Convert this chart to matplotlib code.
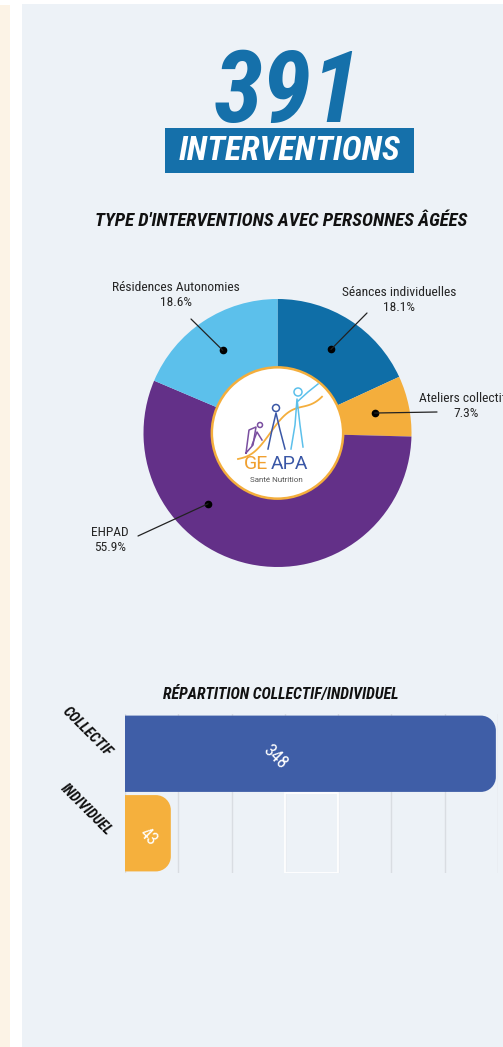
import numpy as np
import matplotlib
matplotlib.use("Agg")
import matplotlib.pyplot as plt
from matplotlib import font_manager as fm
from matplotlib.patches import Rectangle, Circle, PathPatch
from matplotlib.path import Path

# ---------------- data ----------------
total_interventions = 391
pie_labels = ["Séances individuelles", "Ateliers collectifs", "EHPAD", "Résidences Autonomies"]
pie_shares = [18.1, 7.3, 55.9, 18.6]
pie_colors = ["#0f6ea7", "#f4ae3c", "#633088", "#5cc0eb"]

bar_categories = ["COLLECTIF", "INDIVIDUEL"]
bar_values = [348, 43]
bar_colors = ["#3f5ea7", "#f5b03d"]
bar_ticks = [0, 50, 100, 150, 200, 250, 300, 350]

title_main = "INTERVENTIONS"
title_pie = "TYPE D'INTERVENTIONS AVEC PERSONNES ÂGÉES"
title_bar = "RÉPARTITION COLLECTIF/INDIVIDUEL"

# ---------------- fonts ----------------
names = {f.name for f in fm.fontManager.ttflist}
COND = next((n for n in ["Roboto Condensed", "Liberation Sans Narrow", "Roboto"] if n in names), "DejaVu Sans")
SC = 1.0 if COND != "Roboto" else 0.86
REG = "Roboto" if "Roboto" in names else "DejaVu Sans"

W, H = 503, 1047
fig = plt.figure(figsize=(W / 100, H / 100), dpi=100)
fig.patch.set_facecolor("white")


def px_rect(l, t, w, h):
    return [l / W, 1 - (t + h) / H, w / W, h / H]


bg = fig.add_axes([0, 0, 1, 1])
bg.set_xlim(0, W)
bg.set_ylim(H, 0)
bg.axis("off")
bg.add_patch(Rectangle((0, 5), 10.5, H, color="#fcf3e6", lw=0))
bg.add_patch(Rectangle((22.5, 4), W, H, color="#edf2f7", lw=0))

# headline
bg.text(287, 122, str(total_interventions), ha="center", va="baseline", fontsize=72 * SC,
        family=COND, weight="bold", style="italic", color="#1570aa")
bg.add_patch(Rectangle((165, 128), 249, 45, color="#1570aa", lw=0))
bg.text(290, 151, title_main, ha="center", va="center", fontsize=24.5 * SC,
        family=COND, weight="bold", style="italic", color="white")
bg.text(281, 221, title_pie, ha="center", va="center", fontsize=13.5 * SC,
        family=COND, weight="bold", style="italic", color="#111111")

# ---------------- donut ----------------
cx, cy, R = 277.5, 433, 134
ax_pie = fig.add_axes(px_rect(cx - 1.1 * R, cy - 1.1 * R, 2.2 * R, 2.2 * R))
wedges, _ = ax_pie.pie(pie_shares, colors=pie_colors, startangle=90, counterclock=False,
                       radius=1, wedgeprops=dict(width=0.51, linewidth=0))
ax_pie.set_xlim(-1.1, 1.1)
ax_pie.set_ylim(-1.1, 1.1)
ax_pie.set_aspect("equal")
ax_pie.axis("off")
ax_pie.add_patch(Circle((0, 0), 0.49, facecolor="white", edgecolor="#f4ae3c", lw=1.8, zorder=3))

anchor_frac = [0.5, 0.5, 0.66, 0.5]
line_ends = [(367, 313), (437, 412), (138, 536), (191, 319)]
label_pos = [(399, 300), (466, 406), (110, 540), (176, 295)]
for w, frac, (ex, ey), (lx, ly), name, share in zip(wedges, anchor_frac, line_ends, label_pos,
                                                      pie_labels, pie_shares):
    ang = np.deg2rad(w.theta2 - frac * (w.theta2 - w.theta1))
    dx, dy = 0.74 * np.cos(ang), 0.74 * np.sin(ang)
    ax_pie.plot([dx], [dy], "o", ms=4.5, color="black", zorder=5)
    ax_pie.annotate("", xy=(dx, dy), xytext=(ex, ey), textcoords=bg.transData,
                    arrowprops=dict(arrowstyle="-", color="#222222", lw=0.9, shrinkA=0, shrinkB=0),
                    annotation_clip=False, zorder=5)
    bg.text(lx, ly, f"{name}\n{share}%", ha="center", va="center", fontsize=9.7 * SC,
            family=COND, color="#262626", linespacing=1.2)

# logo (decoration) on an overlay axes above the donut
top = fig.add_axes([0, 0, 1, 1])
top.set_xlim(0, W)
top.set_ylim(H, 0)
top.axis("off")
top.patch.set_visible(False)
t = np.linspace(0, 1, 80)
top.plot(238 + 84 * t, 459 - 68 * t + 6 * np.sin(2 * np.pi * t * 1.3), color="#f4ae3c", lw=1.3)
top.add_patch(Circle((260, 425), 2.5, fill=False, ec="#7a4fa0", lw=1.1))
top.add_patch(Circle((276, 408), 3.5, fill=False, ec="#3a57a6", lw=1.1))
top.add_patch(Circle((298, 392), 4, fill=False, ec="#5cc0eb", lw=1.1))
top.plot([268, 272, 276, 280, 285], [449, 430, 413, 430, 449], color="#3a57a6", lw=1.1)
top.plot([291, 295, 297, 300, 303], [449, 425, 399, 425, 447], color="#5cc0eb", lw=1.1)
top.plot([297, 308, 318], [402, 392, 384], color="#5cc0eb", lw=1.1)
top.plot([246, 249, 256, 253, 246], [453, 430, 427, 445, 453], color="#7a4fa0", lw=1.1)
top.plot([252, 257, 262], [445, 432, 440], color="#7a4fa0", lw=1.1)
top.text(256, 464, "GE", ha="center", va="center", fontsize=14, family=REG,
         color="#f0a030")
top.text(289.5, 464, "APA", ha="center", va="center", fontsize=14, family=REG,
         color="#3a57a6")
top.text(276, 480, "Santé Nutrition", ha="center", va="center", fontsize=5.8, family=REG,
         color="#555555")

# ---------------- bars ----------------
bg.text(281, 694, title_bar, ha="center", va="center", fontsize=11.4 * SC,
        family=COND, weight="bold", style="italic", color="#111111")

ax_bar = fig.add_axes(px_rect(125, 714, 373, 159))
ax_bar.set_facecolor("none")
ypos = np.arange(len(bar_values))
bars = ax_bar.barh(ypos, bar_values, height=0.96, color=bar_colors, zorder=3)
ax_bar.set_xlim(0, 350)
ax_bar.set_ylim(1.5, -0.5)
ax_bar.set_xticks(bar_ticks)
ax_bar.xaxis.grid(True, color="#d9dde2", lw=1, zorder=0)
ax_bar.set_axisbelow(True)
for s in ax_bar.spines.values():
    s.set_visible(False)
ax_bar.tick_params(length=0, labelbottom=False)
ax_bar.set_yticks(ypos)
ax_bar.set_yticklabels(bar_categories, rotation=-45, ha="right", va="center",
                       rotation_mode="anchor", fontsize=10.5 * SC, family=COND,
                       weight="bold", style="italic", color="#111111")
ax_bar.tick_params(axis="y", pad=11)

# highlighted cell
ax_bar.add_patch(Rectangle((150, 0.49), 50, 1.01, fill=False, ec="white", lw=1.3, zorder=1))


def rounded_right(x0, y0, w, h, rx, ry):
    k = 0.5523
    x1, y1 = x0 + w, y0 + h
    verts = [(x0, y0), (x1 - rx, y0), (x1 - rx + k * rx, y0), (x1, y0 + ry - k * ry), (x1, y0 + ry),
             (x1, y1 - ry), (x1, y1 - ry + k * ry), (x1 - rx + k * rx, y1), (x1 - rx, y1),
             (x0, y1), (x0, y0)]
    codes = [Path.MOVETO, Path.LINETO, Path.CURVE4, Path.CURVE4, Path.CURVE4, Path.LINETO,
             Path.CURVE4, Path.CURVE4, Path.CURVE4, Path.LINETO, Path.CLOSEPOLY]
    return Path(verts, codes)


rx = 15 * 350 / 373
ry = 15 / 79.5
for b, c in zip(bars, bar_colors):
    b.set_visible(False)
    p = rounded_right(b.get_x(), b.get_y(), b.get_width(), b.get_height(), rx, ry)
    ax_bar.add_patch(PathPatch(p, facecolor=c, lw=0, zorder=3))

label_frac = [0.405, 0.5]
for i, (v, f) in enumerate(zip(bar_values, label_frac)):
    ax_bar.text(v * f, i + 0.04, str(v), rotation=-45, ha="center", va="center",
                rotation_mode="anchor", fontsize=13, family=COND, color="white", zorder=4)

fig.savefig("out.png", dpi=100, facecolor=fig.get_facecolor())
